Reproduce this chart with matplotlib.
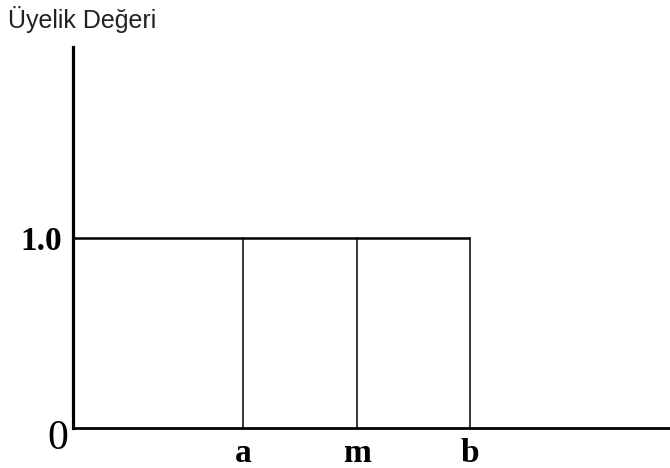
import matplotlib.pyplot as plt

# membership function breakpoints (rectangular, a..b at full membership)
x_labels = ['a', 'm', 'b']
x_pos = [1.5, 2.5, 3.5]
mu_level = 1.0
y_labels = ['1.0']
x_max = 5.26
y_max = 2.0

serif = ['Liberation Serif', 'DejaVu Serif']

fig = plt.figure(figsize=(6.7, 4.68), dpi=100)
ax = fig.add_axes([73 / 670, 40 / 468, 597 / 670, 381 / 468])

# horizontal level line from the axis to b
ax.plot([0, x_pos[-1]], [mu_level, mu_level], color='black', lw=1.8,
        solid_capstyle='butt', clip_on=False)
# verticals at a, m, b
for xp in x_pos:
    ax.plot([xp, xp], [0, mu_level], color='black', lw=1.1, clip_on=False)

ax.set_xlim(0, x_max)
ax.set_ylim(0, y_max)
for side in ['top', 'right']:
    ax.spines[side].set_visible(False)
ax.spines['left'].set_linewidth(2.3)
ax.spines['bottom'].set_linewidth(2.0)

ax.set_xticks(x_pos, x_labels)
ax.set_yticks([mu_level], y_labels)
ax.tick_params(length=0)
ax.tick_params(axis='x', pad=7)
ax.tick_params(axis='y', pad=8)
for lbl in ax.get_xticklabels() + ax.get_yticklabels():
    lbl.set_family(serif)
    lbl.set_fontweight('bold')
    lbl.set_fontsize(24)

ax.text(-0.044, -0.110, '0', ha='right', va='baseline',
        family=serif, fontsize=30)

fig.text(8 / 670, 1 - 28 / 468, 'Üyelik Değeri', ha='left', va='baseline',
         family=['Liberation Sans', 'DejaVu Sans'], fontsize=18, color='#222222')

fig.savefig('out.png', dpi=100)
